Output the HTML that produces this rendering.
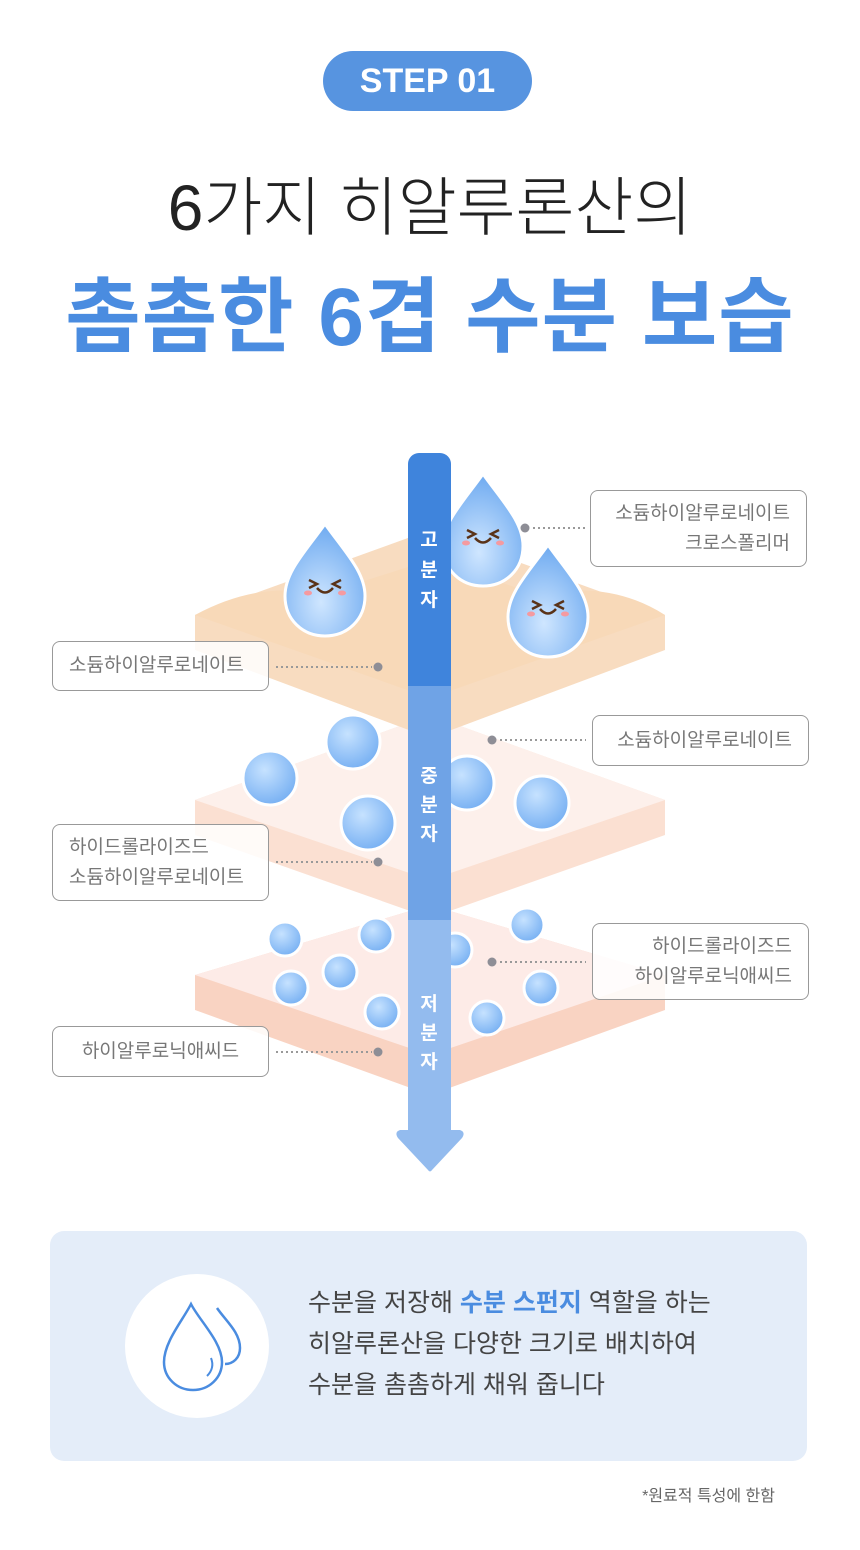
<!DOCTYPE html>
<html><head><meta charset="utf-8"><style>
body{margin:0;width:860px;height:1550px;background:#fff;font-family:"Liberation Sans","Noto Sans CJK KR",sans-serif;position:relative;overflow:hidden}
.abs{position:absolute}
.pill{left:323px;top:51px;width:209px;height:60px;border-radius:30px;background:#5794e0;color:#fff;font-weight:bold;font-size:34px;line-height:60px;text-align:center}
.t1{left:0;width:860px;top:168px;text-align:center;font-size:64px;color:#222;font-weight:300;line-height:80px}
.t2{left:0;width:860px;top:268px;text-align:center;font-size:82px;color:#4a8ce0;font-weight:bold;line-height:100px;letter-spacing:1px}
.box{border:1.3px solid #999;border-radius:8px;box-sizing:border-box;background:rgba(255,255,255,.85);color:#777;font-size:19px;line-height:30px;padding:0 16px;display:flex;flex-direction:column;justify-content:center}
.r{text-align:right}
.panel{left:50px;top:1231px;width:757px;height:230px;border-radius:14px;background:#e4edf9}
.ptext{left:308px;top:1283px;font-size:25px;line-height:41px;color:#444}
</style></head><body>
<div class="abs pill">STEP 01</div>
<div class="abs t1">6가지 히알루론산의</div>
<div class="abs t2">촘촘한 6겹 수분 보습</div>
<svg class="abs" style="left:0;top:0" width="860" height="1550">
<defs>
<radialGradient id="dg" cx="0.45" cy="0.7" r="0.7"><stop offset="0" stop-color="#cfe6ff"/><stop offset="1" stop-color="#6eaaf0"/></radialGradient>
<radialGradient id="bg" cx="0.4" cy="0.35" r="0.7"><stop offset="0" stop-color="#c6e2ff"/><stop offset="1" stop-color="#74aef2"/></radialGradient>
<g id="drop"><path d="M0,-58 C20,-30 40,-10 40,14 C40,38 22,54 0,54 C-22,54 -40,38 -40,14 C-40,-10 -20,-30 0,-58Z" fill="url(#dg)" stroke="#fff" stroke-width="3"/>
<path d="M-16,-2 l8,4 l-8,4 M16,-2 l-8,4 l8,4" stroke="#5a3318" stroke-width="2.5" fill="none"/>
<path d="M-8,6 q8,9 16,0" stroke="#5a3318" stroke-width="2.5" fill="none"/>
<ellipse cx="-17" cy="11" rx="4" ry="2.5" fill="#f59aa0"/><ellipse cx="17" cy="11" rx="4" ry="2.5" fill="#f59aa0"/></g>
</defs>
<path d="M195,975 L430,905 L665,975 L665,1010 L430,1095 L195,1010Z" fill="#f9d3c2"/>
<path d="M195,975 L430,905 L665,975 L430,1055Z" fill="#fdebe7"/>
<path d="M195,800 L430,715 L665,800 L665,835 L430,918 L195,835Z" fill="#fbe0d2"/>
<path d="M195,800 L430,715 L665,800 L430,880Z" fill="#fdf0eb"/>
<path d="M195,615 L430,530 L665,615 L665,650 L430,738 L195,650Z" fill="#f8dcc0"/>
<path d="M195,615 Q260,580 320,595 L430,560 L540,595 Q610,580 665,615 L430,698Z" fill="#f8d9b8"/>
<g fill="url(#bg)" stroke="#fff" stroke-width="3">
<circle cx="353" cy="742" r="27"/><circle cx="270" cy="778" r="27"/><circle cx="368" cy="823" r="27"/><circle cx="467" cy="783" r="27"/><circle cx="542" cy="803" r="27"/>
<circle cx="285" cy="939" r="17"/><circle cx="376" cy="935" r="17"/><circle cx="291" cy="988" r="17"/><circle cx="340" cy="972" r="17"/><circle cx="382" cy="1012" r="17"/><circle cx="455" cy="950" r="17"/><circle cx="527" cy="925" r="17"/><circle cx="541" cy="988" r="17"/><circle cx="487" cy="1018" r="17"/>
</g>
<use href="#drop" x="483" y="532"/>
<use href="#drop" x="325" y="582"/>
<use href="#drop" x="548" y="603"/>
<path d="M408,464 a11,11 0 0 1 11,-11 h21 a11,11 0 0 1 11,11 V686 H408Z" fill="#3f84dc"/>
<rect x="408" y="686" width="43" height="234" fill="#6fa3e6"/>
<rect x="408" y="920" width="43" height="212" fill="#93bbee"/>
<path d="M400,1130 H460 Q466,1132 462,1138 L432,1170 Q430,1173 428,1170 L398,1138 Q394,1132 400,1130Z" fill="#93bbee"/>
<g fill="#fff" font-weight="bold" font-size="19" text-anchor="middle" font-family="Liberation Sans,Noto Sans CJK KR,sans-serif">
<text x="429" y="546">고</text><text x="429" y="576">분</text><text x="429" y="606">자</text>
<text x="429" y="782">중</text><text x="429" y="811">분</text><text x="429" y="840">자</text>
<text x="429" y="1010">저</text><text x="429" y="1039">분</text><text x="429" y="1068">자</text>
</g>
<g stroke="#999" stroke-width="2" stroke-dasharray="2,3">
<line x1="533" y1="528" x2="586" y2="528"/><line x1="276" y1="667" x2="372" y2="667"/>
<line x1="500" y1="740" x2="586" y2="740"/><line x1="276" y1="862" x2="372" y2="862"/>
<line x1="500" y1="962" x2="586" y2="962"/><line x1="276" y1="1052" x2="372" y2="1052"/>
</g>
<g fill="#8e8e96"><circle cx="525" cy="528" r="4.5"/><circle cx="378" cy="667" r="4.5"/><circle cx="492" cy="740" r="4.5"/><circle cx="378" cy="862" r="4.5"/><circle cx="492" cy="962" r="4.5"/><circle cx="378" cy="1052" r="4.5"/></g>
</svg>
<div class="abs box r" style="left:590px;top:490px;width:217px;height:77px"><div>소듐하이알루로네이트</div><div>크로스폴리머</div></div>
<div class="abs box" style="left:52px;top:641px;width:217px;height:50px">소듐하이알루로네이트</div>
<div class="abs box r" style="left:592px;top:715px;width:217px;height:51px">소듐하이알루로네이트</div>
<div class="abs box" style="left:52px;top:824px;width:217px;height:77px"><div>하이드롤라이즈드</div><div>소듐하이알루로네이트</div></div>
<div class="abs box r" style="left:592px;top:923px;width:217px;height:77px"><div>하이드롤라이즈드</div><div>하이알루로닉애씨드</div></div>
<div class="abs box" style="left:52px;top:1026px;width:217px;height:51px;text-align:center">하이알루로닉애씨드</div>
<div class="abs panel"></div>
<svg class="abs" style="left:125px;top:1274px" width="144" height="144">
<circle cx="72" cy="72" r="72" fill="#fff"/>
<path d="M92,34 C100,46 115,58 115,74 C115,84 108,90 100,90" fill="none" stroke="#4a8ce0" stroke-width="2.5"/>
<path d="M66,30 C74,46 97,68 97,88 C97,104 84,116 68,116 C52,116 39,104 39,88 C39,68 58,46 66,30Z" fill="none" stroke="#4a8ce0" stroke-width="2.5"/>
<path d="M86,84 q4,10 -4,18" fill="none" stroke="#4a8ce0" stroke-width="2"/>
</svg>
<div class="abs ptext">수분을 저장해 <b style="color:#4a8ce0">수분 스펀지</b> 역할을 하는<br>히알루론산을 다양한 크기로 배치하여<br>수분을 촘촘하게 채워 줍니다</div>
<div class="abs" style="right:85px;top:1482px;font-size:16px;color:#666">*원료적 특성에 한함</div>
</body></html>
